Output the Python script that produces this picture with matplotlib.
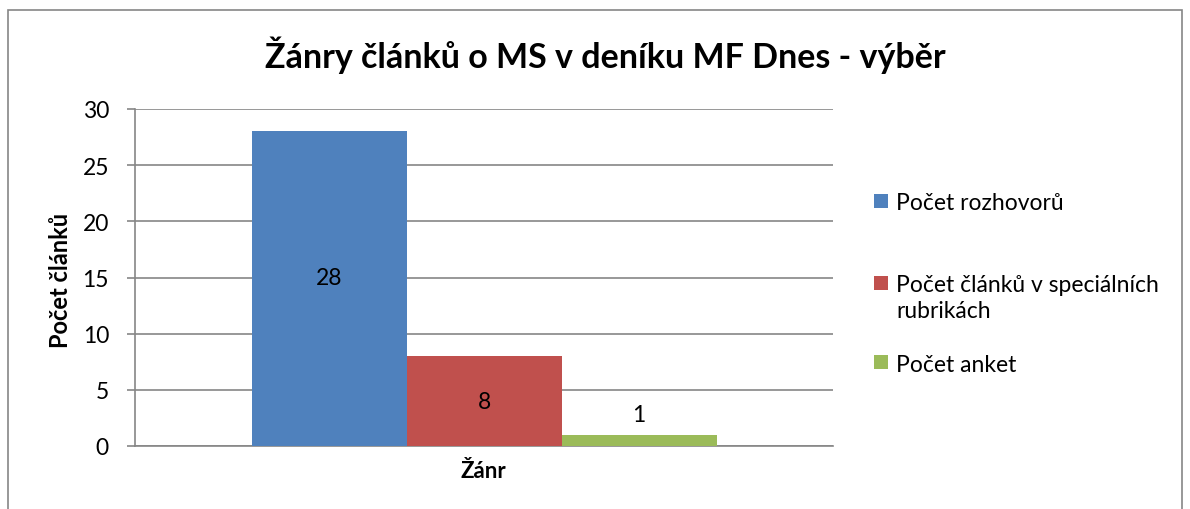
import matplotlib
matplotlib.use("Agg")
import matplotlib.pyplot as plt
from matplotlib.patches import Rectangle

plt.rcParams['font.family'] = ['Lato', 'DejaVu Sans']

category = "Žánr"
series = ["Počet rozhovorů", "Počet článků v speciálních\nrubrikách", "Počet anket"]
values = [28, 8, 1]
colors = ["#4F81BD", "#C0504D", "#9BBB59"]
yticks = [0, 5, 10, 15, 20, 25, 30]
title = "Žánry článků o MS v deníku MF Dnes - výběr"
ylabel = "Počet článků"

W, H = 1190, 510
fig = plt.figure(figsize=(W / 100, H / 100), dpi=100)
PX = 0.72  # points per pixel

# chart border
fig.add_artist(Rectangle((8 / W, -0.02), (1182 - 8) / W, 1.02 - 11 / H,
                         transform=fig.transFigure, fill=False,
                         edgecolor="#868686", linewidth=1.2))

ax = fig.add_axes([135 / W, 1 - 447 / H, (833 - 135) / W, (447 - 110) / H])
bw = 155 / 698
offsets = [-bw, 0, bw]
for v, c, off, name in zip(values, colors, offsets, series):
    ax.bar(off, v, width=bw, color=c, label=name, zorder=3)
ax.set_xlim(-0.5, 0.5)
ax.set_ylim(0, 30)
ax.set_yticks(yticks)
ax.set_xticks([])
ax.grid(axis='y', color="#868686", linewidth=1.2, zorder=0)
for s in ["top", "right"]:
    ax.spines[s].set_visible(False)
for s in ["left", "bottom"]:
    ax.spines[s].set_color("#868686")
    ax.spines[s].set_linewidth(1.2)
ax.tick_params(axis='y', length=8 * PX, width=1.2, color="#868686", labelsize=16.5,
               pad=18 * PX)

# data labels
ax.text(offsets[0], 15, str(values[0]), ha='center', va='center', fontsize=16.5, zorder=4)
ax.text(offsets[1], 4, str(values[1]), ha='center', va='center', fontsize=16.5, zorder=4)
ax.text(offsets[2], 2.8, str(values[2]), ha='center', va='center', fontsize=16.5, zorder=4)

fig.text(605 / W, 1 - 55 / H, title, ha='center', va='center', fontsize=24.5, fontweight='bold')
fig.text(60 / W, 1 - 280 / H, ylabel, ha='center', va='center', fontsize=17,
         fontweight='bold', rotation=90)
fig.text(483 / W, 1 - 472 / H, category, ha='center', va='center', fontsize=16, fontweight='bold')

# legend
patch_y = [202, 284, 363]
for c, name, py in zip(colors, series, patch_y):
    fig.add_artist(Rectangle((874 / W, 1 - (py + 7) / H), 14 / W, 14 / H,
                             transform=fig.transFigure, facecolor=c, edgecolor='none'))
    for i, line in enumerate(name.split("\n")):
        fig.text(896 / W, 1 - (py + i * 26) / H, line, ha='left', va='center_baseline',
                 fontsize=16.5)

fig.savefig("out.png", dpi=100)
